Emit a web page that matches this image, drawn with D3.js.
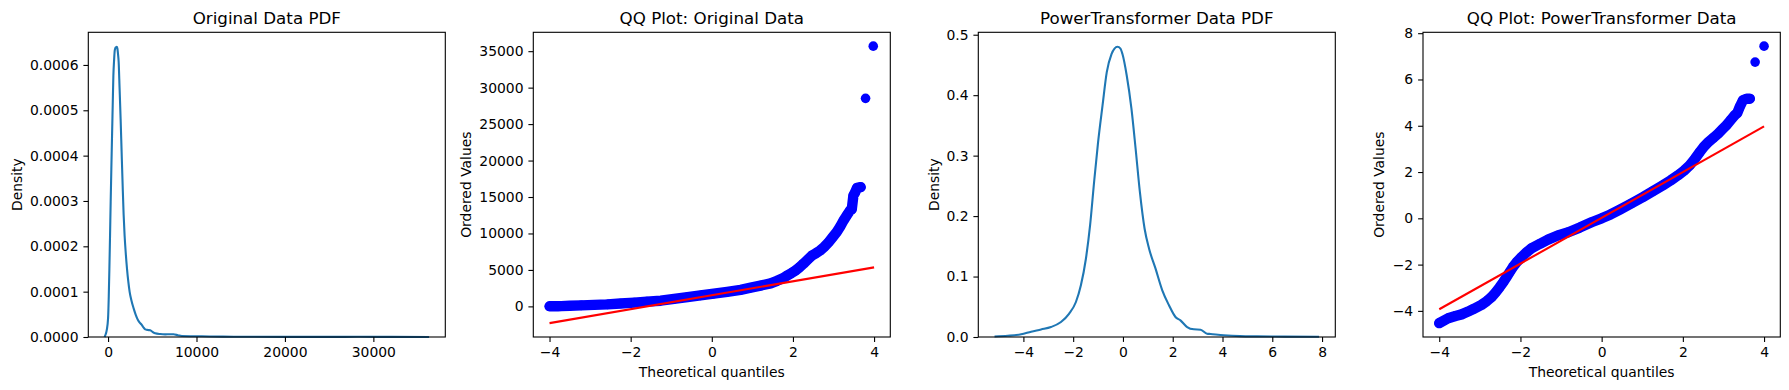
<!DOCTYPE html>
<html>
<head>
<meta charset="utf-8">
<script src="https://cdn.jsdelivr.net/npm/d3@7"></script>
<style>
    body { margin: 0; background: #fff; }
    svg text { font-family: "DejaVu Sans", sans-serif; fill: #000; }
</style>
</head>
<body>
<svg id="fig" width="1789" height="390"></svg>
<script>
// ---- panel 1: KDE of the original data (x value, density)
const origPdfX = [-400, -300, -150, 0, 80, 150, 220, 295, 370, 450, 525, 600, 680, 750, 820, 900, 980, 1050, 1120, 1200,
    1300, 1420, 1530, 1650, 1760, 1870, 2000, 2140, 2290, 2440, 2650, 2890, 3130, 3380, 3600, 3830, 4000, 4200, 4500,
    4770, 5050, 5330, 5900, 6460, 7000, 7400, 7900, 8340, 9500, 10600, 13000, 16000, 20000, 25000, 28500, 32000, 36300];
const origPdfY = [0, 0.0000044, 0.000015, 0.000041, 0.00009, 0.000151, 0.00022, 0.000298, 0.00037, 0.000444, 0.00051,
    0.000576, 0.00061, 0.000631, 0.000637, 0.000639, 0.00064, 0.000637, 0.000625, 0.000606, 0.00055, 0.000481, 0.00041,
    0.000334, 0.00027, 0.000224, 0.000185, 0.000151, 0.000122, 0.0000997, 0.00008, 0.0000631, 0.000049, 0.0000374,
    0.000031, 0.0000264, 0.000021, 0.0000169, 0.0000155, 0.0000147, 0.000011, 0.0000081, 0.0000065, 0.0000059,
    0.0000062, 0.0000059, 0.000004, 0.0000022, 0.0000017, 0.0000015, 0.0000008, 0.0000005, 0.0000003, 0.0000003,
    0.0000004, 0.0000002, 0.0000001];
const origPdfXTicks = [0, 10000, 20000, 30000];
const origPdfYTicks = [0, 0.0001, 0.0002, 0.0003, 0.0004, 0.0005, 0.0006];

// ---- panel 2: QQ plot of the original data
const origQQTheo = [-4.00, -3.79, -3.71, -3.5, -3.22, -2.9, -2.57, -2.25, -1.91, -1.6, -1.26, -0.93, -0.60, -0.28, 0.05,
    0.38, 0.71, 0.96, 1.20, 1.45, 1.61, 1.75, 1.86, 1.96, 2.06, 2.16, 2.26, 2.37, 2.47, 2.57, 2.67, 2.78, 2.88, 2.98,
    3.08, 3.17, 3.25, 3.33, 3.41, 3.45, 3.49, 3.53, 3.58, 3.67, 3.79, 3.98];
const origQQVals = [10, 20, 40, 80, 140, 200, 275, 390, 510, 650, 780, 1020, 1260, 1500, 1740, 2000, 2270, 2560, 2850,
    3150, 3500, 3850, 4230, 4550, 4910, 5350, 5850, 6450, 6980, 7300, 7670, 8200, 8810, 9500, 10190, 11000, 11800,
    12500, 13170, 13300, 15200, 15600, 16250, 16350, 28530, 35690];
const origFitX = [-4.0, 4.0];
const origFitY = [-2300, 5350];
const origQQXTicks = [-4, -2, 0, 2, 4];
const origQQYTicks = [0, 5000, 10000, 15000, 20000, 25000, 30000, 35000];

// ---- panel 3: KDE after PowerTransformer
const ptPdfX = [-5.16, -4.63, -4.09, -3.69, -3.29, -2.89, -2.49, -2.16, -1.89, -1.69, -1.49, -1.32, -1.16, -1.00, -0.82,
    -0.65, -0.46, -0.34, -0.22, -0.10, -0.02, 0.15, 0.34, 0.51, 0.68, 0.87, 1.05, 1.31, 1.58, 1.85, 2.11, 2.31, 2.58,
    2.85, 3.12, 3.38, 3.52, 4.05, 4.7, 5.39, 6.5, 7.88];
const ptPdfY = [0.0008, 0.002, 0.0045, 0.0088, 0.0125, 0.0165, 0.0248, 0.0386, 0.0579, 0.0855, 0.129, 0.185, 0.256,
    0.322, 0.383, 0.438, 0.468, 0.477, 0.480, 0.477, 0.468, 0.433, 0.378, 0.311, 0.240, 0.179, 0.146, 0.113, 0.0772,
    0.0524, 0.0331, 0.0276, 0.0165, 0.0127, 0.0121, 0.0055, 0.005, 0.003, 0.0015, 0.001, 0.0007, 0.0005];
const ptPdfXTicks = [-4, -2, 0, 2, 4, 6, 8];
const ptPdfYTicks = [0, 0.1, 0.2, 0.3, 0.4, 0.5];

// ---- panel 4: QQ plot after PowerTransformer
const ptQQTheo = [-4.00, -3.78, -3.60, -3.45, -3.29, -3.16, -2.96, -2.83, -2.71, -2.61, -2.51, -2.42, -2.34, -2.26,
    -2.18, -2.08, -1.97, -1.85, -1.73, -1.52, -1.32, -1.08, -0.82, -0.54, -0.25, 0.0, 0.22, 0.45, 0.73, 1.02, 1.27, 1.51,
    1.70, 1.88, 2.03, 2.17, 2.30, 2.42, 2.52, 2.62, 2.75, 2.87, 2.97, 3.07, 3.18, 3.28, 3.34, 3.40, 3.48, 3.57, 3.65,
    3.78, 4.00];
const ptQQVals = [-4.53, -4.32, -4.22, -4.15, -4.03, -3.92, -3.74, -3.58, -3.40, -3.20, -2.97, -2.75, -2.53, -2.31,
    -2.09, -1.87, -1.67, -1.47, -1.30, -1.10, -0.92, -0.74, -0.60, -0.40, -0.17, 0.0, 0.17, 0.38, 0.64, 0.92, 1.18, 1.43,
    1.64, 1.86, 2.06, 2.29, 2.58, 2.87, 3.10, 3.28, 3.48, 3.66, 3.84, 4.02, 4.25, 4.46, 4.55, 4.81, 5.10, 5.17, 5.17,
    6.75, 7.44];
const ptFitX = [-4.0, 4.0];
const ptFitY = [-3.93, 3.97];
const ptQQXTicks = [-4, -2, 0, 2, 4];
const ptQQYTicks = [-4, -2, 0, 2, 4, 6, 8];

const panels = [
    {kind: "kde", title: "Original Data PDF", ylabel: "Density", xlabel: null,
        x0: 88.3, x1: 445.3, ylabX: 21.8,
        xs: origPdfX, ys: origPdfY, xTicks: origPdfXTicks, yTicks: origPdfYTicks,
        xFmt: d3.format("d"), yFmt: d3.format(".4f")},
    {kind: "qq", title: "QQ Plot: Original Data", ylabel: "Ordered Values", xlabel: "Theoretical quantiles",
        x0: 533.3, x1: 890.3, ylabX: 471,
        xs: origQQTheo, ys: origQQVals, fitX: origFitX, fitY: origFitY,
        xTicks: origQQXTicks, yTicks: origQQYTicks, xFmt: d3.format("d"), yFmt: d3.format("d")},
    {kind: "kde", title: "PowerTransformer Data PDF", ylabel: "Density", xlabel: null,
        x0: 978.3, x1: 1335.3, ylabX: 938.5,
        xs: ptPdfX, ys: ptPdfY, xTicks: ptPdfXTicks, yTicks: ptPdfYTicks,
        xFmt: d3.format("d"), yFmt: d3.format(".1f")},
    {kind: "qq", title: "QQ Plot: PowerTransformer Data", ylabel: "Ordered Values", xlabel: "Theoretical quantiles",
        x0: 1423, x1: 1780.3, ylabX: 1383.5,
        xs: ptQQTheo, ys: ptQQVals, fitX: ptFitX, fitY: ptFitY,
        xTicks: ptQQXTicks, yTicks: ptQQYTicks, xFmt: d3.format("d"), yFmt: d3.format("d")}
];

const axTop = 32.3, axBottom = 337;
const svg = d3.select("#fig");

// matplotlib style 5% margins
function padded(ext) {
    const m = (ext[1] - ext[0]) * 0.05;
    return [ext[0] - m, ext[1] + m];
}

panels.forEach(p => {
    const g = svg.append("g");
    let xDom, yDom;
    if (p.kind === "kde") {
        xDom = padded(d3.extent(p.xs));
        yDom = [0, d3.max(p.ys) * 1.05];
    } else {
        xDom = padded(d3.extent(p.xs.concat(p.fitX)));
        yDom = padded(d3.extent(p.ys.concat(p.fitY)));
    }
    const x = d3.scaleLinear().domain(xDom).range([p.x0, p.x1]);
    const y = d3.scaleLinear().domain(yDom).range([axBottom, axTop]);
    const pts = p.xs.map((v, i) => [v, p.ys[i]]);

    if (p.kind === "kde") {
        g.append("path")
            .datum(pts)
            .attr("fill", "none")
            .attr("stroke", "#1f77b4")
            .attr("stroke-width", 2.1)
            .attr("stroke-linejoin", "round")
            .attr("d", d3.line().x(d => x(d[0])).y(d => y(d[1])).curve(d3.curveMonotoneX));
    } else {
        // thousands of overlapping markers read as one band; only the far outliers stand apart
        const runs = [];
        let cur = [pts[0]];
        for (let i = 1; i < pts.length; i++) {
            const dx = x(pts[i][0]) - x(pts[i - 1][0]);
            const dy = y(pts[i][1]) - y(pts[i - 1][1]);
            if (Math.hypot(dx, dy) < 16) cur.push(pts[i]);
            else { runs.push(cur); cur = [pts[i]]; }
        }
        runs.push(cur);
        g.selectAll(".band")
            .data(runs.filter(r => r.length > 1))
            .join("path")
            .attr("class", "band")
            .attr("fill", "none")
            .attr("stroke", "#0000ff")
            .attr("stroke-width", 10.4)
            .attr("stroke-linejoin", "round")
            .attr("stroke-linecap", "round")
            .attr("d", d3.line().x(d => x(d[0])).y(d => y(d[1])));
        g.selectAll(".pt")
            .data(pts)
            .join("circle")
            .attr("class", "pt")
            .attr("cx", d => x(d[0]))
            .attr("cy", d => y(d[1]))
            .attr("r", 4.8)
            .attr("fill", "#0000ff");
        g.append("path")
            .datum(p.fitX.map((v, i) => [v, p.fitY[i]]))
            .attr("fill", "none")
            .attr("stroke", "#ff0000")
            .attr("stroke-width", 2.1)
            .attr("d", d3.line().x(d => x(d[0])).y(d => y(d[1])));
    }

    // axes
    const xAxis = g.append("g")
        .attr("transform", `translate(0,${axBottom})`)
        .call(d3.axisBottom(x).tickValues(p.xTicks).tickFormat(p.xFmt).tickSize(4.9).tickPadding(4.9).tickSizeOuter(0));
    const yAxis = g.append("g")
        .attr("transform", `translate(${p.x0},0)`)
        .call(d3.axisLeft(y).tickValues(p.yTicks).tickFormat(p.yFmt).tickSize(4.9).tickPadding(4.9).tickSizeOuter(0));
    [xAxis, yAxis].forEach(a => {
        a.select(".domain").remove();
        a.selectAll("line").attr("stroke", "#000").attr("stroke-width", 1.1);
        a.selectAll("text")
            .attr("font-family", "DejaVu Sans")
            .attr("font-size", 13.9)
            .attr("fill", "#000");
    });

    g.append("rect")
        .attr("x", p.x0)
        .attr("y", axTop)
        .attr("width", p.x1 - p.x0)
        .attr("height", axBottom - axTop)
        .attr("fill", "none")
        .attr("stroke", "#000")
        .attr("stroke-width", 1.1);

    // labels
    g.append("text")
        .attr("x", (p.x0 + p.x1) / 2)
        .attr("y", 24)
        .attr("text-anchor", "middle")
        .attr("font-size", 16.7)
        .text(p.title);
    if (p.xlabel) {
        g.append("text")
            .attr("x", (p.x0 + p.x1) / 2)
            .attr("y", 377)
            .attr("text-anchor", "middle")
            .attr("font-size", 13.9)
            .text(p.xlabel);
    }
    g.append("text")
        .attr("transform", `translate(${p.ylabX},${(axTop + axBottom) / 2}) rotate(-90)`)
        .attr("text-anchor", "middle")
        .attr("font-size", 13.9)
        .text(p.ylabel);
});
</script>
</body>
</html>
